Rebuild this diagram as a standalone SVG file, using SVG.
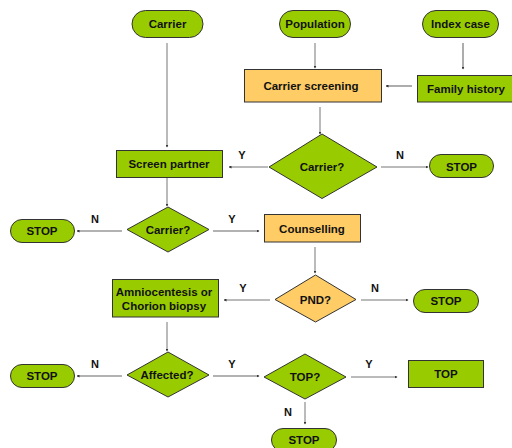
<svg xmlns="http://www.w3.org/2000/svg" width="512" height="448" viewBox="0 0 512 448">
<style>
.g{fill:#99CC00;stroke:#333;stroke-width:1}
.o{fill:#FFCC66;stroke:#333;stroke-width:1}
.t{font-family:"Liberation Sans",Arial,sans-serif;font-weight:bold;font-size:11.5px;fill:#111;text-anchor:middle}
.l{font-family:"Liberation Sans",Arial,sans-serif;font-weight:bold;font-size:11px;fill:#111;text-anchor:middle}
.c{fill:none;stroke:#666;stroke-width:0.9;marker-end:url(#a)}
.c2{fill:none;stroke:#999;stroke-width:1.6;marker-end:url(#a)}
</style>
<defs>
<marker id="a" viewBox="0 0 6 6" refX="5" refY="3" markerWidth="3" markerHeight="3" markerUnits="userSpaceOnUse" orient="auto"><path d="M0,0L6,3L0,6z" fill="#333"/></marker>
</defs>
<rect width="512" height="448" fill="#fff"/>
<g id="connectors">
<path class="c" d="M167,43V147"/>
<path class="c" d="M315,43V68"/>
<path class="c2" d="M463,43V69"/>
<path class="c2" d="M412,86H386"/>
<path class="c" d="M320,107V134"/>
<path class="c" d="M268,167H229"/>
<path class="c" d="M381,167H428"/>
<path class="c" d="M167,178V206"/>
<path class="c2" d="M122,231H77"/>
<path class="c2" d="M213,231H259"/>
<path class="c" d="M315,247V273"/>
<path class="c" d="M270,300H224"/>
<path class="c" d="M361,300H408"/>
<path class="c" d="M167,322V351"/>
<path class="c2" d="M122,376H77"/>
<path class="c2" d="M213,376H259"/>
<path class="c" d="M351,377H397"/>
<path class="c" d="M305,402V424"/>
<text class="l" x="242" y="159">Y</text>
<text class="l" x="400" y="159">N</text>
<text class="l" x="95" y="223">N</text>
<text class="l" x="232" y="223">Y</text>
<text class="l" x="243" y="292">Y</text>
<text class="l" x="375" y="292">N</text>
<text class="l" x="95" y="368">N</text>
<text class="l" x="232" y="368">Y</text>
<text class="l" x="369" y="368">Y</text>
<text class="l" x="288" y="416">N</text>
</g>
<g id="carrier"><rect class="g" x="132" y="10.5" width="71" height="27" rx="13.5"/><text class="t" x="167.5" y="28">Carrier</text></g>
<g id="population"><rect class="g" x="279.5" y="10.5" width="71" height="27" rx="13.5"/><text class="t" x="315" y="28">Population</text></g>
<g id="indexcase"><rect class="g" x="422.5" y="10.5" width="76" height="27" rx="13.5"/><text class="t" x="460.5" y="28">Index case</text></g>
<g id="carrierscreening"><rect class="o" x="244.5" y="69.5" width="137" height="32.5"/><text class="t" x="311" y="90">Carrier screening</text></g>
<g id="familyhistory"><rect class="g" x="417.5" y="75.5" width="100" height="26.5"/><text class="t" x="466" y="93">Family history</text></g>
<g id="carrierq1"><path class="g" d="M322,134L377,167L322,198.5L269,167Z"/><text class="t" x="322" y="171">Carrier?</text></g>
<g id="screenpartner"><rect class="g" x="116.5" y="150.5" width="106" height="27"/><text class="t" x="169" y="168">Screen partner</text></g>
<g id="stop1"><rect class="g" x="429.5" y="154.5" width="64" height="23" rx="11.5"/><text class="t" x="461.5" y="171">STOP</text></g>
<g id="carrierq2"><path class="g" d="M168,207L209,229.5L168,252L127,229.5Z"/><text class="t" x="168" y="234">Carrier?</text></g>
<g id="stop2"><rect class="g" x="10.5" y="219.5" width="64" height="23" rx="11.5"/><text class="t" x="42" y="235">STOP</text></g>
<g id="counselling"><rect class="o" x="264.5" y="214.5" width="96" height="27.5"/><text class="t" x="312" y="233">Counselling</text></g>
<g id="pnd"><path class="o" d="M315.5,275L356,299.5L315.5,322L275,299.5Z"/><text class="t" x="315.5" y="304">PND?</text></g>
<g id="amnio"><rect class="g" x="112.5" y="279.5" width="106" height="37.5"/><text class="t" x="164" y="296">Amniocentesis or</text><text class="t" x="164" y="310">Chorion biopsy</text></g>
<g id="stop3"><rect class="g" x="413.5" y="289.5" width="65" height="23" rx="11.5"/><text class="t" x="446" y="305">STOP</text></g>
<g id="affected"><path class="g" d="M168,352L209,375L168,397L127,375Z"/><text class="t" x="167" y="379">Affected?</text></g>
<g id="stop4"><rect class="g" x="10.5" y="364.5" width="64" height="23" rx="11.5"/><text class="t" x="42" y="380">STOP</text></g>
<g id="topq"><path class="g" d="M305,354L346,377L305,399L264,377Z"/><text class="t" x="305" y="381">TOP?</text></g>
<g id="top"><rect class="g" x="408.5" y="360.5" width="75" height="27"/><text class="t" x="446" y="378">TOP</text></g>
<g id="stop5"><rect class="g" x="271.5" y="428.5" width="65" height="23" rx="11.5"/><text class="t" x="304" y="444">STOP</text></g>
</svg>
